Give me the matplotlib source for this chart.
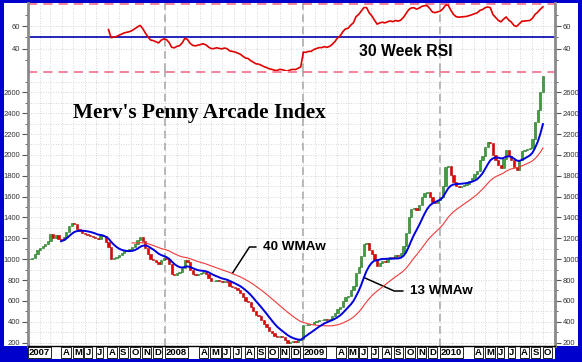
import numpy as np
import pandas as pd
import matplotlib
matplotlib.use('Agg')
import matplotlib.pyplot as plt
import matplotlib.dates as mdates
from matplotlib.patches import Rectangle
from matplotlib.transforms import blended_transform_factory
from datetime import date, timedelta

plt.rcParams['font.family'] = ['Liberation Sans', 'DejaVu Sans']

# weekly closes of the index
closes_2007 = [1000, 1010, 1050, 1090, 1110, 1130, 1150, 1170, 1240, 1200,
               1230, 1190, 1180, 1210, 1260, 1320, 1350, 1340, 1290, 1270,
               1250, 1240, 1230, 1220, 1210, 1200, 1190, 1230, 1220, 1160,
               1120, 1000, 1010, 1020, 1040, 1060, 1080, 1090, 1100, 1120,
               1150, 1180, 1210, 1170, 1110, 1050, 1000, 990, 970, 950,
               990, 1010]
closes_2008 = [1000, 950, 860, 850, 870, 880, 920, 990, 970, 900,
               860, 850, 860, 870, 880, 860, 820, 790, 790, 800,
               790, 780, 790, 780, 740, 730, 720, 700, 680, 640,
               600, 590, 540, 500, 460, 450, 420, 380, 350, 310,
               290, 260, 250, 260, 250, 220, 200, 210, 215, 210,
               220, 230]
closes_2009 = [370, 370, 380, 380, 400, 410, 420, 420, 430, 420,
               430, 450, 480, 520, 545, 600, 640, 650, 700, 740,
               870, 925, 1030, 1150, 1155, 1090, 1050, 990, 930, 960,
               980, 970, 1000, 1020, 1010, 1040, 1030, 1060, 1130, 1250,
               1400, 1480, 1490, 1470, 1520, 1600, 1635, 1640, 1600, 1550,
               1540, 1570]
closes_2010 = [1600, 1700, 1880, 1890, 1810, 1740, 1700, 1690, 1700, 1710,
               1720, 1750, 1780, 1820, 1850, 1950, 1990, 2080, 2120, 2110,
               2000, 1950, 1900, 1870, 1960, 2050, 1990, 1950, 1880, 1860,
               1950, 2040, 2050, 2060, 2070, 2150, 2320, 2430, 2600, 2760]

price_ticks = list(range(200, 2800, 200))
rsi_ticks = [40, 60]
month_letters = 'JFMAMJJASOND'

closes = pd.Series(closes_2007 + closes_2008 + closes_2009 + closes_2010, dtype=float)
weeks = pd.date_range('2007-01-05', periods=len(closes), freq='7D')
closes.index = weeks


def wma(s, n):
    w = np.arange(1, n + 1)
    return s.rolling(n).apply(lambda v: np.dot(v, w) / w.sum(), raw=True)


def wilder_rsi(s, n):
    d = s.diff().values
    g = np.clip(d, 0, None)
    l = np.clip(-d, 0, None)
    out = np.full(len(s), np.nan)
    ag = g[1:n + 1].mean()
    al = l[1:n + 1].mean()
    out[n] = 100 - 100 / (1 + ag / al)
    for t in range(n + 1, len(s)):
        ag = (ag * (n - 1) + g[t]) / n
        al = (al * (n - 1) + l[t]) / n
        out[t] = 100 - 100 / (1 + ag / al)
    return pd.Series(out, index=s.index)


wma13 = wma(closes, 13)
wma40 = wma(closes, 40)
rsi = wilder_rsi(closes, 30)

W, H = 582, 362
fig = plt.figure(figsize=(W / 100, H / 100), dpi=100, facecolor='#0000CC')
fig.add_artist(Rectangle((4 / W, 16 / H), 574 / W, 343 / H, transform=fig.transFigure,
                         fc='white', ec='none', zorder=-10))
fig.add_artist(Rectangle((28 / W, 3 / H), 527 / W, 14 / H, transform=fig.transFigure,
                         fc='white', ec='none', zorder=-10))

ax_r = fig.add_axes([28 / W, (H - 71) / H, 527 / W, 68 / H])
ax = fig.add_axes([28 / W, 16 / H, 527 / W, 275 / H], sharex=ax_r)

x0 = mdates.date2num(date(2007, 1, 1))
x1 = mdates.date2num(date(2010, 11, 2))
ax.set_xlim(x0, x1)

for a in (ax, ax_r):
    a.set_facecolor('white')
    a.spines['top'].set_visible(False)
    for s in ('left', 'right'):
        a.spines[s].set_color('#8a8a8a')
        a.spines[s].set_linewidth(2)
    a.xaxis.set_major_locator(mdates.MonthLocator())
    a.tick_params(axis='x', bottom=False, labelbottom=False)
    a.grid(axis='x', which='major', color='#c8c8c8', lw=0.6, ls=(0, (1, 2)))
    a.yaxis.set_ticks_position('both')
    a.tick_params(axis='y', which='both', direction='out', colors='#555555',
                  labelcolor='#333333', labelsize=5.5, labelleft=True, labelright=True, pad=1.5)
    a.tick_params(axis='y', which='major', length=4)
    a.tick_params(axis='y', which='minor', length=2)
    for yr in (2008, 2009, 2010):
        a.axvline(mdates.date2num(date(yr, 1, 1)), color='#a0a0a0', lw=1.1, ls=(0, (5, 3)), zorder=1)

ax_r.spines['bottom'].set_visible(False)
ax.spines['bottom'].set_color('black')
ax.spines['bottom'].set_linewidth(1)

# RSI panel
ax_r.set_ylim(19.7, 81.2)
ax_r.set_yticks(rsi_ticks)
ax_r.set_yticks([30, 50, 70], minor=True)
ax_r.grid(axis='y', which='major', color='#c8c8c8', lw=0.6, ls=(0, (1, 2)))
ax_r.axhline(80, color='#f06080', lw=1.1, ls=(0, (6, 4)))
ax_r.axhline(50, color='#0000b0', lw=1.2)
ax_r.plot(weeks, rsi, color='#e00000', lw=1.2, zorder=3)

# price panel
ax.set_ylim(167, 2805)
ax.set_yticks(price_ticks)
ax.set_yticks(range(200, 2800, 100), minor=True)
ax.grid(axis='y', which='both', color='#c8c8c8', lw=0.6, ls=(0, (1, 2)))
ax.axhline(2800, color='#f06080', lw=1.1, ls=(0, (6, 4)), clip_on=False)

vals = closes.values
prev = np.r_[vals[0], vals[:-1]]
chg = vals - prev
up = chg >= 0
wx = mdates.date2num(weeks.to_pydatetime())
ax.bar(wx[up], chg[up], bottom=prev[up], width=6, color='#3da03d', edgecolor='#1f6f1f', lw=0.4, zorder=3)
ax.bar(wx[~up], chg[~up], bottom=prev[~up], width=6, color='#e80000', edgecolor='#b00000', lw=0.4, zorder=3)

ax.plot(weeks, wma40, color='#f03a3a', lw=0.8, zorder=4)
ax.plot(weeks, wma13, color='#0000dd', lw=1.4, zorder=5)

ax.annotate('40 WMAw', xy=(wx[77], wma40.iloc[77]), xytext=(263, H - 247), textcoords='figure pixels',
            fontsize=9.7, fontweight='bold', va='center', ha='left',
            arrowprops=dict(arrowstyle='-', color='black', lw=1.1, shrinkA=3, shrinkB=0,
                            relpos=(0, 0.5), connectionstyle='angle,angleA=0,angleB=57,rad=0'))
ax.annotate('13 WMAw', xy=(wx[127], wma13.iloc[127]), xytext=(410, H - 291), textcoords='figure pixels',
            fontsize=9.7, fontweight='bold', va='center', ha='left',
            arrowprops=dict(arrowstyle='-', color='black', lw=1.1, shrinkA=3, shrinkB=0,
                            relpos=(0, 0.5), connectionstyle='angle,angleA=0,angleB=-24,rad=0'))

fig.text(359 / W, 1 - 52 / H, '30 Week RSI', fontsize=11.3, fontweight='bold', va='center', ha='left')
fig.text(73 / W, 1 - 113 / H, "Merv's Penny Arcade Index", family=['Liberation Serif', 'DejaVu Serif'],
         fontsize=15.3, fontweight='bold', va='center', ha='left')

# month labels along the bottom
trans = blended_transform_factory(ax.transData, fig.transFigure)
for yr in range(2007, 2011):
    for m in range(1, 13):
        if m in (2, 3) or (yr == 2010 and m > 10):
            continue
        lab = str(yr) if m == 1 else month_letters[m - 1]
        xd = mdates.date2num(date(yr, m, 1) + timedelta(days=2))
        ax.text(xd, (H - 352.5) / H, lab, transform=trans, ha='left', va='center',
                fontsize=6.8, fontweight='bold', clip_on=False,
                bbox=dict(boxstyle='square,pad=0.12', fc='white', ec='black', lw=0.6))

fig.savefig('out.png', dpi=100, facecolor=fig.get_facecolor())
